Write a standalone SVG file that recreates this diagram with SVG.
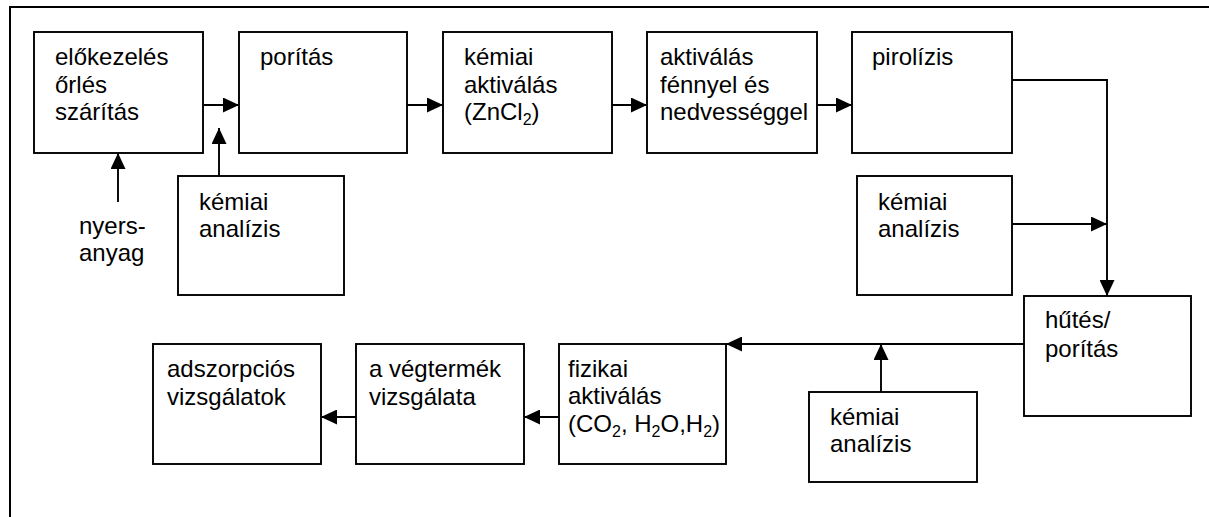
<svg xmlns="http://www.w3.org/2000/svg" width="1209" height="517" viewBox="0 0 1209 517">
<style>
.box{fill:#fff;stroke:#000;stroke-width:1.9}
.ln{fill:none;stroke:#000;stroke-width:1.9}
text{font-family:"Liberation Sans",Arial,sans-serif;font-size:24px;fill:#000}
.sub{font-size:16px}
</style>
<defs>
<marker id="ah" viewBox="0 0 16 15" refX="16" refY="7.5" markerWidth="16" markerHeight="15" markerUnits="userSpaceOnUse" orient="auto">
<path d="M0,0 L16,7.5 L0,15 Z" fill="#000"/>
</marker>
</defs>
<rect x="10" y="7" width="1300" height="600" fill="#fff" stroke="#000" stroke-width="2"/>
<g id="connectors">
<line class="ln" x1="203" y1="105" x2="239" y2="105" marker-end="url(#ah)"/>
<line class="ln" x1="407" y1="105" x2="443" y2="105" marker-end="url(#ah)"/>
<line class="ln" x1="612" y1="105" x2="647" y2="105" marker-end="url(#ah)"/>
<line class="ln" x1="817" y1="105" x2="852" y2="105" marker-end="url(#ah)"/>
<line class="ln" x1="118" y1="202" x2="118" y2="153" marker-end="url(#ah)"/>
<line class="ln" x1="219" y1="176" x2="219" y2="128" marker-end="url(#ah)"/>
<polyline class="ln" points="1012,80 1107,80 1107,296" marker-end="url(#ah)"/>
<line class="ln" x1="1012" y1="224" x2="1107" y2="224" marker-end="url(#ah)"/>
<line class="ln" x1="1024" y1="344" x2="726" y2="344" marker-end="url(#ah)"/>
<line class="ln" x1="881" y1="392" x2="881" y2="344" marker-end="url(#ah)"/>
<line class="ln" x1="559" y1="417" x2="524" y2="417" marker-end="url(#ah)"/>
<line class="ln" x1="356" y1="417" x2="321" y2="417" marker-end="url(#ah)"/>
</g>
<g id="n-elokezeles">
<rect class="box" x="34" y="32" width="169" height="121"/>
<text x="55" y="65">előkezelés</text>
<text x="55" y="93">őrlés</text>
<text x="55" y="120">szárítás</text>
</g>
<g id="n-poritas">
<rect class="box" x="239" y="32" width="168" height="121"/>
<text x="260" y="65">porítás</text>
</g>
<g id="n-kemiai-aktivalas">
<rect class="box" x="443" y="32" width="169" height="121"/>
<text x="464" y="65">kémiai</text>
<text x="464" y="93">aktiválás</text>
<text x="464" y="120">(ZnCl<tspan class="sub" dy="5">2</tspan><tspan dy="-5">)</tspan></text>
</g>
<g id="n-aktivalas-fennyel">
<rect class="box" x="647" y="32" width="170" height="121"/>
<text x="660" y="65">aktiválás</text>
<text x="660" y="93">fénnyel és</text>
<text x="660" y="120">nedvességgel</text>
</g>
<g id="n-pirolizis">
<rect class="box" x="852" y="32" width="160" height="121"/>
<text x="872" y="65">pirolízis</text>
</g>
<g id="n-nyersanyag">
<text x="79" y="234">nyers-</text>
<text x="79" y="261">anyag</text>
</g>
<g id="n-kemiai-analizis-1">
<rect class="box" x="178" y="176" width="166" height="119"/>
<text x="199" y="210">kémiai</text>
<text x="199" y="237">analízis</text>
</g>
<g id="n-kemiai-analizis-2">
<rect class="box" x="857" y="176" width="155" height="119"/>
<text x="878" y="210">kémiai</text>
<text x="878" y="237">analízis</text>
</g>
<g id="n-hutes">
<rect class="box" x="1024" y="296" width="167" height="120"/>
<text x="1045" y="328">hűtés/</text>
<text x="1045" y="357">porítás</text>
</g>
<g id="n-kemiai-analizis-3">
<rect class="box" x="809" y="392" width="168" height="90"/>
<text x="830" y="425">kémiai</text>
<text x="830" y="452">analízis</text>
</g>
<g id="n-fizikai">
<rect class="box" x="559" y="344" width="167" height="120"/>
<text x="568" y="377">fizikai</text>
<text x="568" y="404">aktiválás</text>
<text x="568" y="432">(CO<tspan class="sub" dy="5">2</tspan><tspan dy="-5">, H</tspan><tspan class="sub" dy="5">2</tspan><tspan dy="-5">O,H</tspan><tspan class="sub" dy="5">2</tspan><tspan dy="-5">)</tspan></text>
</g>
<g id="n-vegtermek">
<rect class="box" x="356" y="344" width="168" height="120"/>
<text x="369" y="377">a végtermék</text>
<text x="369" y="405">vizsgálata</text>
</g>
<g id="n-adszorpcios">
<rect class="box" x="153" y="344" width="168" height="120"/>
<text x="167" y="377">adszorpciós</text>
<text x="167" y="405">vizsgálatok</text>
</g>
</svg>
